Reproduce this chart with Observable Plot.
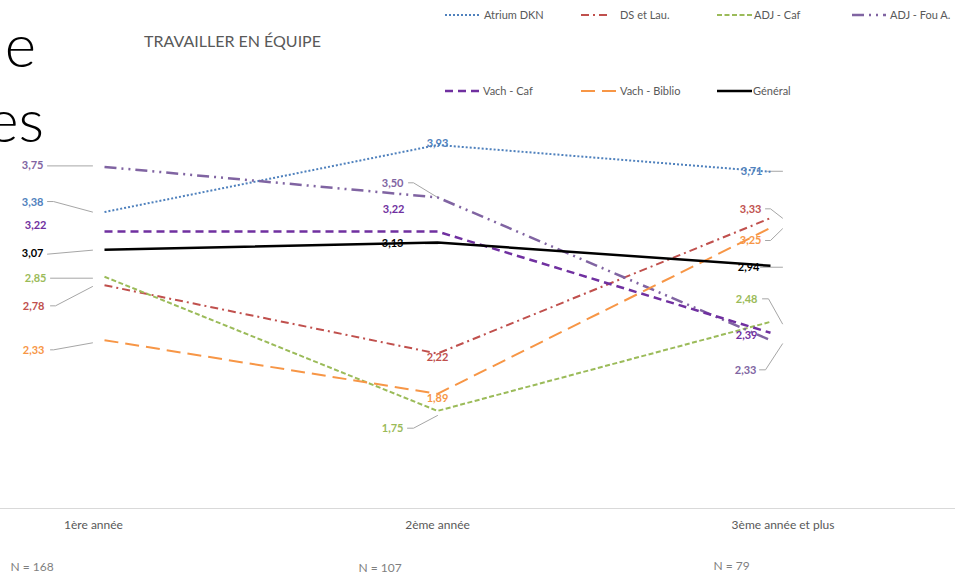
<!DOCTYPE html>
<html><head><meta charset="utf-8">
<script src="https://cdn.jsdelivr.net/npm/d3@7"></script>
<script src="https://cdn.jsdelivr.net/npm/@observablehq/plot@0.6"></script>
<style>
body{margin:0;background:#fff;}
#wrap{position:relative;width:963px;height:583px;overflow:hidden;font-family:Lato,"Open Sans",sans-serif;}
#chart{position:absolute;left:0;top:0;}
#overlay{position:absolute;left:0;top:0;}
</style></head><body>
<div id="wrap"><div id="chart"></div><svg id="overlay" width="963" height="583"></svg></div>
<script>
// ---------- data ----------
const categories = ["1ère année", "2ème année", "3ème année et plus"];
const counts = ["N = 168", "N = 107", "N = 79"];
const seriesNames = ["Atrium DKN", "DS et Lau.", "ADJ - Caf", "ADJ - Fou A.", "Vach - Caf", "Vach - Biblio", "Général"];
const atriumDKN = [3.38, 3.93, 3.71];
const dsEtLau = [2.78, 2.22, 3.33];
const adjCaf = [2.85, 1.75, 2.48];
const adjFou = [3.75, 3.50, 2.33];
const vachCaf = [3.22, 3.22, 2.39];
const vachBiblio = [2.33, 1.89, 3.25];
const general = [3.07, 3.13, 2.94];
const chartTitle = "TRAVAILLER EN ÉQUIPE";
const values = [atriumDKN, dsEtLau, adjCaf, adjFou, vachCaf, vachBiblio, general];

// ---------- styles ----------
const styles = {
  "Atrium DKN":   {color: "#4F81BD", dash: "2 2", width: 2},
  "DS et Lau.":   {color: "#C0504D", dash: "8 4 2 4", width: 2},
  "ADJ - Caf":    {color: "#9BBB59", dash: "5 2.5", width: 2},
  "ADJ - Fou A.": {color: "#8064A2", dash: "12 5 2 5 2 5", width: 2.5},
  "Vach - Caf":   {color: "#7030A0", dash: "8 5", width: 2.5},
  "Vach - Biblio":{color: "#F79646", dash: "14 7", width: 2},
  "Général":      {color: "#000000", dash: null, width: 2.5}
};

// ---------- layout (pixel offsets relative to the data point) ----------
const labelLayout = {
  "Atrium DKN":   [[-61, -10, "end"], [0, -1, "middle"], [-8, 0, "end"]],
  "DS et Lau.":   [[-60, 21, "end"], [0, 4, "middle"], [-9, -9, "end"]],
  "ADJ - Caf":    [[-58, 2, "end"], [-34, 18, "end"], [-13, -22, "end"]],
  "ADJ - Fou A.": [[-61, -1, "end"], [-34, -14, "end"], [-14, 30, "end"]],
  "Vach - Caf":   [[-58, -6, "end"], [-33, -22, "end"], [-13, 3, "end"]],
  "Vach - Biblio":[[-60, 10, "end"], [0, 5, "middle"], [-9, 13, "end"]],
  "Général":      [[-61, 4, "end"], [-34, 1, "end"], [-11, 2, "end"]]
};
const leaderLayout = {
  "Atrium DKN":   [[[-57,-10.5],[-51,-10.5],[-12,0]], null, [[-3,-0.5],[12,-0.5]]],
  "DS et Lau.":   [[[-54,20.6],[-49,20.6],[-12,1.3]], null, [[-5,-9.3],[0,-9.3],[12,0]]],
  "ADJ - Caf":    [[[-54,1.5],[-12,1.5]], [[-30,17.3],[-24,17.3],[0,4.6]], [[-8,-23],[-2,-23],[12,2]]],
  "ADJ - Fou A.": [[[-57,-1],[-12,-1]], [[-29,-14.6],[-24,-14.6],[0,0]], [[-11,29.7],[-5,29.7],[12,3.7]]],
  "Vach - Caf":   [null, null, null],
  "Vach - Biblio":[[[-54,9.7],[-51,9.7],[-12,2.7]], null, [[-5,12.6],[0,12.6],[12,0.9]]],
  "Général":      [[[-57,4.3],[-12,0.3]], [[-12,1.3],[0,1.3]], [[-10,1.5],[12,1.5]]]
};
const catDx = [-11, 0, 12.5], catY = 525;
const nDx = [-94, -79, -57], nY = [567, 568, 566];

// ---------- scales ----------
const xDomain = [0, 2], xRange = [104, 770];
const yDomain = [0.95, 4], yRange = [508, 135.9];
const xs = d3.scaleLinear(xDomain, xRange), ys = d3.scaleLinear(yDomain, yRange);
const offX = (i, dx) => xs.invert(xs(i) + dx);
const offY = (v, dy) => ys.invert(ys(v) + dy);
const fmt = v => d3.format(".2f")(v).replace(".", ",");

const rows = [];
seriesNames.forEach((s, k) => values[k].forEach((v, i) => rows.push({series: s, i, v})));

const labels = rows.map(r => {
  const [dx, dy, anchor] = labelLayout[r.series][r.i];
  return {x: offX(r.i, dx), y: offY(r.v, dy), text: fmt(r.v), fill: styles[r.series].color, anchor};
});
const leaders = [];
rows.forEach(r => {
  const L = leaderLayout[r.series][r.i];
  if (!L) return;
  L.forEach(([dx, dy]) => leaders.push({id: r.series + r.i, x: offX(r.i, dx), y: offY(r.v, dy)}));
});

const marks = [
  Plot.ruleY([yDomain[0]], {stroke: "#d9d9d9", strokeWidth: 1}),
  Plot.line(leaders, {x: "x", y: "y", z: "id", stroke: "#a6a6a6", strokeWidth: 1})
];
seriesNames.forEach(s => {
  const st = styles[s];
  marks.push(Plot.line(rows.filter(r => r.series === s), {
    x: "i", y: "v", stroke: st.color, strokeWidth: st.width,
    strokeDasharray: st.dash || undefined, strokeLinecap: "butt", strokeLinejoin: "round"
  }));
});
marks.push(
  Plot.text(labels.filter(d => d.anchor === "end"), {x: "x", y: "y", text: "text", fill: "fill", textAnchor: "end", fontWeight: "bold", fontSize: 11}),
  Plot.text(labels.filter(d => d.anchor === "middle"), {x: "x", y: "y", text: "text", fill: "fill", textAnchor: "middle", fontWeight: "bold", fontSize: 11}),
  Plot.text(categories, {x: (d, i) => offX(i, catDx[i]), y: () => ys.invert(catY), text: d => d, fill: "#595959", fontSize: 12, textAnchor: "middle"}),
  Plot.text(counts, {x: (d, i) => offX(i, nDx[i]), y: (d, i) => ys.invert(nY[i]), text: d => d, fill: "#7f7f7f", fontSize: 12, textAnchor: "start"})
);

const chart = Plot.plot({
  width: 963, height: 583,
  marginLeft: 0, marginRight: 8, marginTop: 0, marginBottom: 0,
  x: {domain: xDomain, range: xRange, axis: null},
  y: {domain: yDomain, range: yRange, axis: null},
  color: {type: "identity"},
  style: {fontFamily: "Lato, 'Open Sans', sans-serif", background: "#fff"},
  marks
});
document.getElementById("chart").appendChild(chart);

// ---------- overlay: cropped slide title, chart title, legend ----------
const ov = d3.select("#overlay");
ov.append("text").attr("x", 36).attr("y", 67).attr("text-anchor", "end")
  .attr("font-family", "Lato, sans-serif").attr("font-weight", 300).attr("font-size", 60).attr("fill", "#000").text("e");
ov.append("text").attr("x", 44).attr("y", 142).attr("text-anchor", "end")
  .attr("font-family", "Lato, sans-serif").attr("font-weight", 300).attr("font-size", 60).attr("fill", "#000").text("es");
ov.append("text").attr("x", 144).attr("y", 47)
  .attr("font-family", "Lato, sans-serif").attr("font-size", 16).attr("fill", "#595959").text(chartTitle);

const legendLayout = [
  {x0: 445, x1: 479, tx: 484, y: 15}, {x0: 581, x1: 610, tx: 620, y: 15},
  {x0: 717, x1: 752, tx: 754, y: 15}, {x0: 852, x1: 886, tx: 890, y: 15},
  {x0: 445, x1: 481, tx: 483, y: 91}, {x0: 581, x1: 618, tx: 620, y: 91},
  {x0: 717, x1: 752, tx: 753, y: 91}
];
seriesNames.forEach((s, k) => {
  const L = legendLayout[k], st = styles[s];
  ov.append("line").attr("x1", L.x0).attr("x2", L.x1).attr("y1", L.y).attr("y2", L.y)
    .attr("stroke", st.color).attr("stroke-width", st.width)
    .attr("stroke-dasharray", st.dash || null);
  ov.append("text").attr("x", L.tx).attr("y", L.y).attr("dy", "0.35em")
    .attr("font-family", "Lato, sans-serif").attr("font-size", 11).attr("fill", "#595959").text(s);
});
</script>
</body></html>
